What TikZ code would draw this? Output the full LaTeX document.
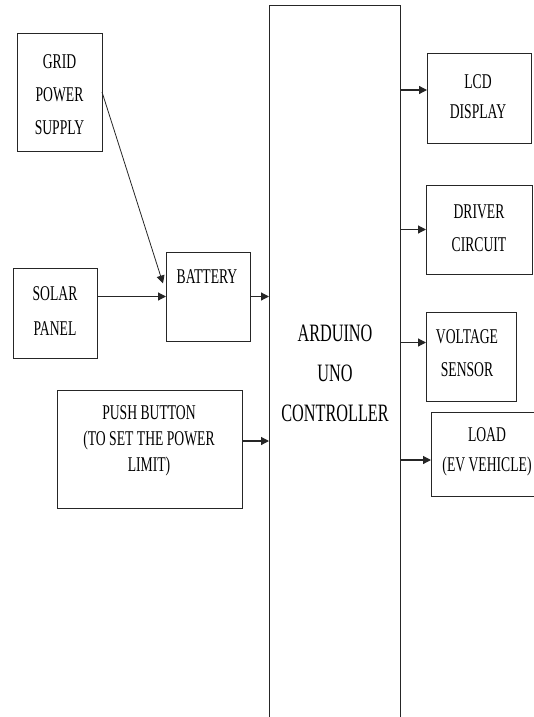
\documentclass[tikz,border=0pt]{standalone}
\usepackage{fontspec}
\setmainfont{Liberation Serif}[FakeStretch=0.65]
\usetikzlibrary{arrows.meta,calc}
\tikzset{
  box/.style={draw=black!85, line width=0.9pt, inner sep=0pt, outer sep=0pt},
  txt/.style={inner sep=0pt, align=center, text=black},
  arr/.style={draw=black!85, line width=1.2pt, -{Triangle[length=8pt,width=8pt]}},
}
\begin{document}
\begin{tikzpicture}[x=1pt,y=-1pt]
\useasboundingbox (0,0) rectangle (534,717);
% boxes
\node[box, minimum width=85pt, minimum height=118pt] (grid) at (59.5,92) {};
\node[box, minimum width=84pt, minimum height=90pt] (solar) at (55,313) {};
\node[box, minimum width=84pt, minimum height=89pt] (battery) at (208,296.5) {};
\node[box, minimum width=131pt, minimum height=725pt] (ard) at (334.5,367.5) {};
\node[box, minimum width=104pt, minimum height=90pt] (lcd) at (479,98) {};
\node[box, minimum width=106pt, minimum height=89pt] (driver) at (479,229.5) {};
\node[box, minimum width=90pt, minimum height=89pt] (voltage) at (471,356.5) {};
\node[box, minimum width=112pt, minimum height=84pt] (load) at (487,454) {};
\node[box, minimum width=185pt, minimum height=118pt] (push) at (149.5,449) {};
% texts
\node[txt, font=\fontsize{21}{33}\selectfont] (gridt) at (59.5,95) {GRID\\POWER\\SUPPLY};
\node[txt, font=\fontsize{21}{35}\selectfont] (solart) at (55,311) {SOLAR\\PANEL};
\node[txt, font=\fontsize{21}{33}\selectfont] (batteryt) at (207,277) {BATTERY};
\node[txt, font=\fontsize{25}{40}\selectfont] (ardt) at (335,373) {ARDUINO\\UNO\\CONTROLLER};
\node[txt, font=\fontsize{21}{30}\selectfont] (lcdt) at (478,97) {LCD\\DISPLAY};
\node[txt, font=\fontsize{21}{33}\selectfont] (drivert) at (479,228.5) {DRIVER\\CIRCUIT};
\node[txt, font=\fontsize{21}{33}\selectfont] (voltaget) at (467,353.5) {VOLTAGE\\SENSOR};
\node[txt, font=\fontsize{21}{30}\selectfont] (loadt) at (487,452) {LOAD\\(EV VEHICLE)};
\node[txt, font=\fontsize{21}{26}\selectfont] (pusht) at (149,441) {PUSH BUTTON\\(TO SET THE POWER\\LIMIT)};
% connectors
\coordinate (gridend) at ($(battery.west)+(-3,-13)$);
\draw[arr, line width=0.8pt] (grid.east) -- (gridend);
\draw[arr] (solar.east |- battery.west) -- (battery.west);
\draw[arr] (battery.east) -- (battery.east -| ard.west);
\draw[arr] (push.east |- pusht) -- (pusht -| ard.west);
\coordinate (lcdin) at ($(lcd.west)+(0,-8)$);
\draw[arr] (lcdin -| ard.east) -- (lcdin);
\draw[arr] (driver.west -| ard.east) -- (driver.west);
\coordinate (voltin) at ($(voltage.west)+(0,-14)$);
\draw[arr] (voltin -| ard.east) -- (voltin);
\coordinate (loadin) at ($(load.west)+(0,6)$);
\draw[arr] (loadin -| ard.east) -- (loadin);
\end{tikzpicture}
\end{document}
